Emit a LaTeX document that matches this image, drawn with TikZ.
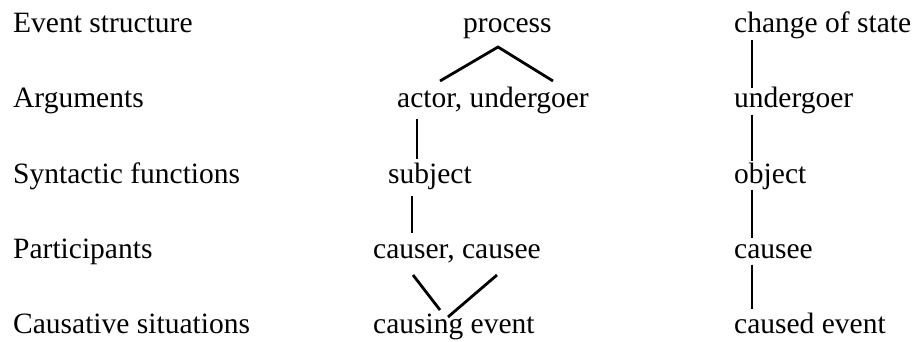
\documentclass[tikz,border=0pt]{standalone}
\usepackage{fontspec}
\setmainfont{Liberation Serif}
\begin{document}
\begin{tikzpicture}[x=1pt,y=-1pt,
  lbl/.style={anchor=base west,inner sep=0pt,font=\fontsize{29.5}{34}\selectfont,
    text height=20pt,text depth=6.5pt},
  link/.style={line width=2.8pt}]
\useasboundingbox[fill=white] (0,0) rectangle (915,342);
% left labels
\node[lbl] (l1) at (13,33) {Event structure};
\node[lbl] (l2) at (13,108) {Arguments};
\node[lbl] (l3) at (13,183) {Syntactic functions};
\node[lbl] (l4) at (13,258) {Participants};
\node[lbl] (l5) at (13,333) {Causative situations};
% middle column
\node[lbl] (m1) at (463,33) {process};
\node[lbl] (m2) at (397,108) {actor, undergoer};
\node[lbl] (m3) at (388,183) {subject};
\node[lbl] (m4) at (373,258) {causer, causee};
\node[lbl] (m5) at (373,333) {causing event};
% right column
\node[lbl] (r1) at (734,33) {change of state};
\node[lbl] (r2) at (734,108) {undergoer};
\node[lbl] (r3) at (734,183) {object};
\node[lbl] (r4) at (734,258) {causee};
\node[lbl] (r5) at (734,333) {caused event};
% middle connectors
\coordinate (apex) at (498,47);
\coordinate (aL) at (440,81);
\coordinate (aR) at (553,81);
\draw[link] (aL) -- (apex) -- (aR);
\coordinate (mx1) at (417,0);
\coordinate (mx2) at (412,0);
\draw[link] ([yshift=-4pt]m2.south -| mx1) -- ([yshift=4pt]m3.north -| mx1);
\draw[link] ([yshift=-6pt]m3.south -| mx2) -- ([yshift=5pt]m4.north -| mx2);
\coordinate (cL1) at (413,275);
\coordinate (cL2) at (440,310);
\coordinate (cR1) at (497,275);
\coordinate (cR2) at (448,317);
\draw[link] (cL1) -- (cL2);
\draw[link] (cR1) -- (cR2);
% right connectors
\coordinate (rx) at (752,0);
\draw[link] (r1.south -| rx) -- (r2.north -| rx);
\draw[link] (r2.south -| rx) -- ([yshift=2pt]r3.north -| rx);
\draw[link] (r3.south -| rx) -- (r4.north -| rx);
\draw[link] (r4.south -| rx) -- ([yshift=4pt]r5.north -| rx);
\end{tikzpicture}
\end{document}
